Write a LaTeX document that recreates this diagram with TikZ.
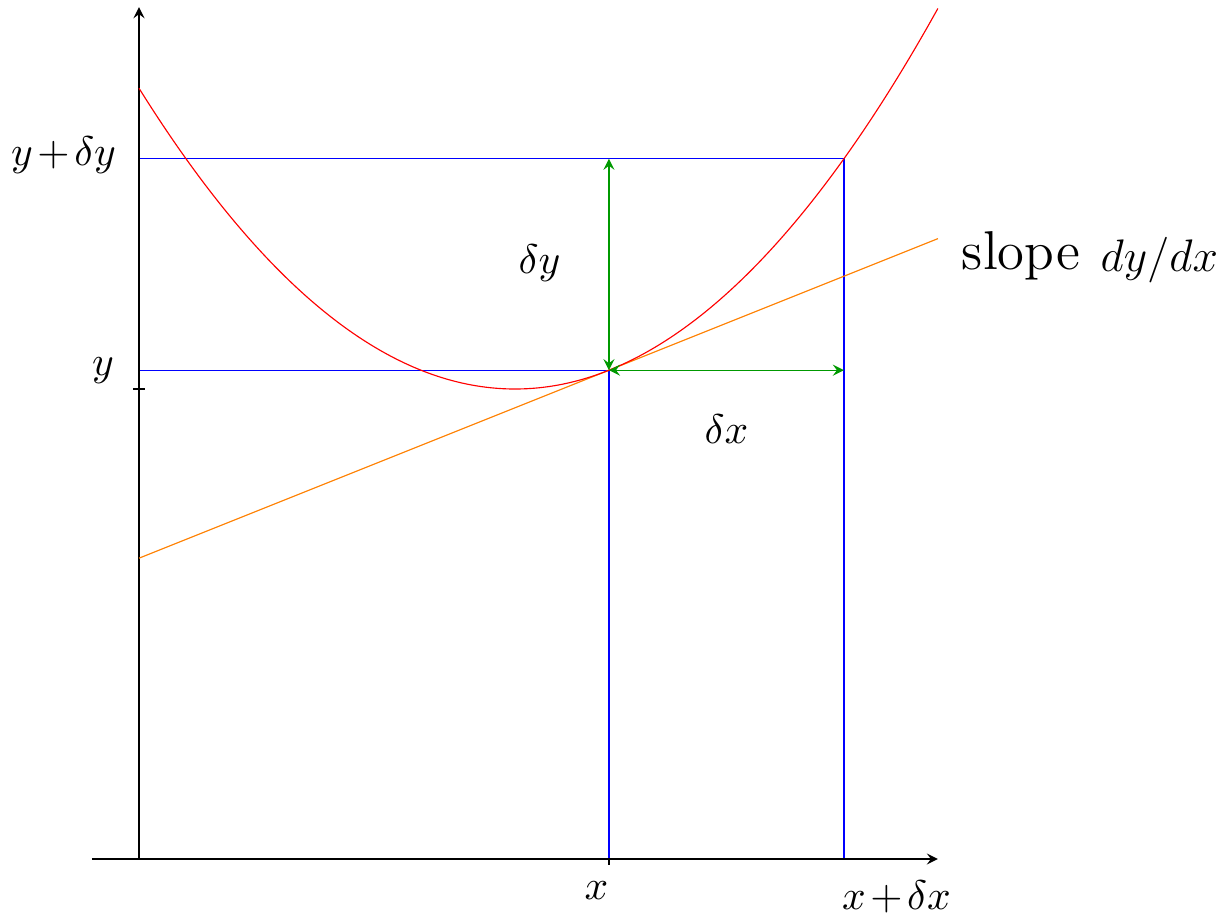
\documentclass[tikz,border=0pt]{standalone}
\usetikzlibrary{arrows}
\definecolor{dgreen}{rgb}{0,0.6,0}
\tikzset{
  every path/.style={line width=0.3pt},
  axis/.style={-stealth},
  guide/.style={blue},
  delta/.style={dgreen, stealth-stealth},
  lbl/.style={anchor=base, inner sep=0pt, scale=1.09}
}
\begin{document}
\begin{tikzpicture}[x=1.087cm, y=1.087cm]
\useasboundingbox (-1.183,-0.4936) rectangle (9.294,7.311);
% key points
\coordinate (O) at (0,0);
\coordinate (P) at (4,4.16);
\coordinate (Q) at (6,5.96);
\coordinate (Py) at (0,4.16);
\coordinate (Qy) at (0,5.96);
\coordinate (Px) at (4,0);
\coordinate (Qx) at (6,0);
\coordinate (PQ) at (6,4.16);
\coordinate (PQv) at (4,5.96);
\coordinate (xs) at (-0.4,0);
\coordinate (xe) at (6.8,0);
\coordinate (ye) at (0,7.25);
\coordinate (ts) at (0,2.56);
\coordinate (te) at (6.8,5.28);
% guides
\draw[guide] (Qy) -- (Q) -- (Qx);
\draw[guide] (Py) -- (P) -- (Px);
% axes
\draw[axis] (xs) -- (xe);
\draw[axis] (O) -- (ye);
\draw (-0.05,4) -- (0.05,4);
\draw (4,0) -- (4,-0.05);
% tangent and curve
\draw[orange] (ts) -- (te);
\draw[red] plot[domain=0:6.8, samples=100, smooth] (\x,{0.25*(\x-3.2)^2+4});
% deltas
\draw[delta] (P) -- (PQv);
\draw[delta] (P) -- (PQ);
% labels
\node[lbl] (lyd) at (-0.642,5.906) {$y\mkern2mu{+}\mkern2mu\delta y$};
\node[lbl] (ly) at (-0.306,4.119) {$y$};
\node[lbl] (ldy) at (3.409,4.987) {$\delta y$};
\node[lbl] (ldx) at (5.0,3.540) {$\delta x$};
\node[lbl] (lx) at (3.894,-0.349) {$x$};
\node[lbl] (lxd) at (6.447,-0.434) {$x\mkern2mu{+}\mkern2mu\delta x$};
\node[anchor=base, inner sep=0pt, font=\Large] (lslope) at (7.506,5.021) {slope};
\node[anchor=base, inner sep=0pt, font=\large] (ldydx) at (8.685,4.996) {$dy/dx$};
\end{tikzpicture}
\end{document}
